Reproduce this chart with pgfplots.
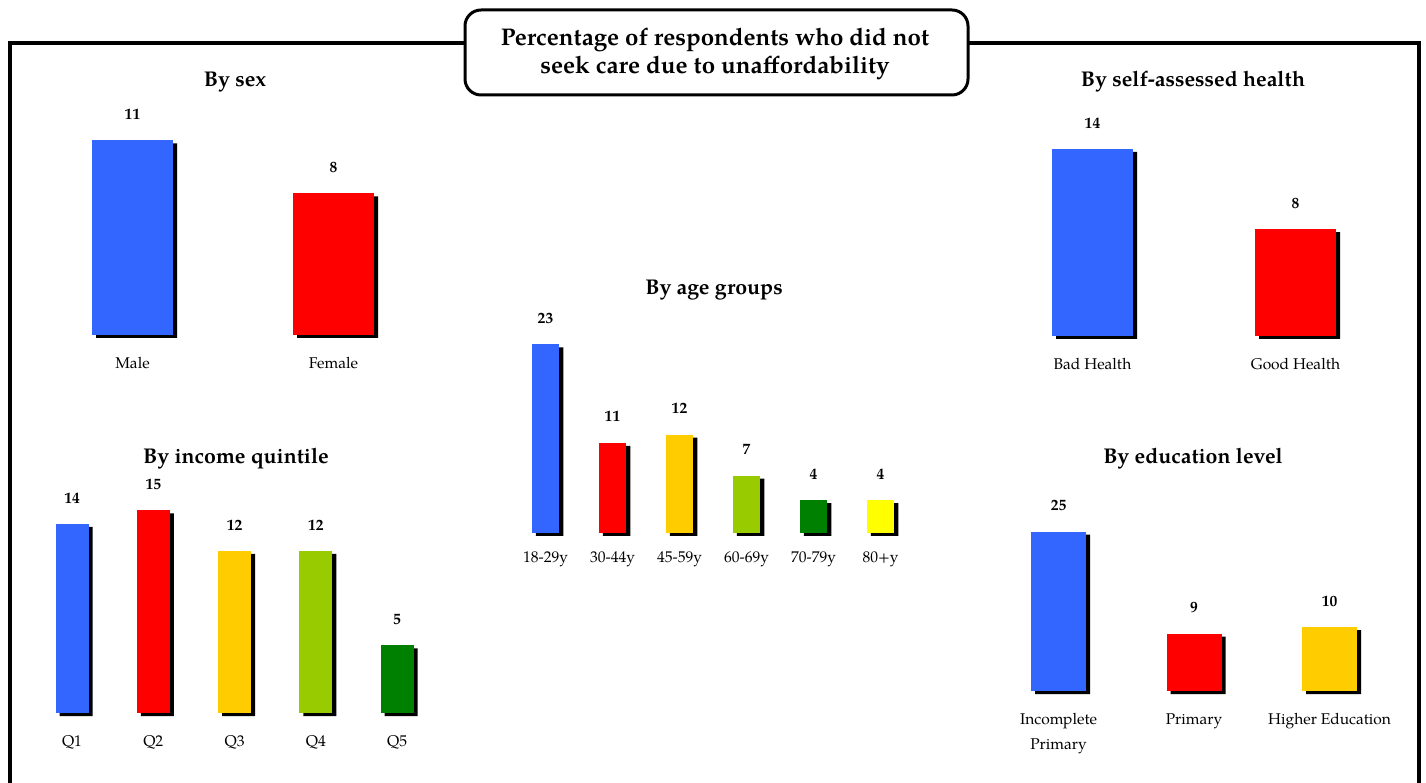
\documentclass[border=0pt]{standalone}
\usepackage{pgfplots}
\pgfplotsset{compat=1.18}
\usepackage{fontspec}
\setmainfont{TeX Gyre Pagella}

\definecolor{cblue}{HTML}{3366FF}
\definecolor{cred}{HTML}{FF0000}
\definecolor{cgold}{HTML}{FFCC00}
\definecolor{clime}{HTML}{99CC00}
\definecolor{cgreen}{HTML}{008000}
\definecolor{cyellow}{HTML}{FFFF00}

\newcommand{\labelfont}{\fontsize{7.8}{9.4}\selectfont}
\newcommand{\valuefont}{\bfseries\fontsize{7.8}{9.4}\selectfont}
\newcommand{\titlefont}{\bfseries\fontsize{12.1}{14}\selectfont}
\newcommand{\panelfont}{\bfseries\fontsize{10.7}{13}\selectfont}

\pgfplotsset{
  panel/.style={
    ybar, anchor=south west, clip=false,
    ymin=0, enlargelimits=false,
    axis line style={draw=none}, major tick length=0pt,
    xtick=data, ytick=\empty,
    xticklabel style={font=\labelfont, anchor=base, yshift=-16.75bp},
    /pgf/number format/assume math mode=true,
  },
  shadow/.style={fill=black, draw=none, bar shift=0pt, xshift=2bp, yshift=-1.5bp},
  bar/.style={fill=#1, draw=none, bar shift=0pt, nodes near coords,
    nodes near coords style={font=\valuefont, anchor=center, yshift=13bp}},
}

\begin{document}
\begin{tikzpicture}
\useasboundingbox (0,0) rectangle (713bp,391.5bp);

% outer frame, open at the bottom
\draw[line width=2bp] (5bp,0) -- (5bp,370bp) -- (709.5bp,370bp) -- (709.5bp,0);

% main title box
\draw[line width=1.5bp, rounded corners=8bp, fill=white]
  (232.5bp,386.5bp) rectangle (484bp,344bp);
\node[anchor=base, font=\titlefont] at (357.5bp,368.5bp) {Percentage of respondents who did not};
\node[anchor=base, font=\titlefont] at (357.5bp,354.5bp) {seek care due to unaffordability};

% panel titles
\node[anchor=base, font=\panelfont] at (117.5bp,348bp) {By sex};
\node[anchor=base, font=\panelfont] at (596.5bp,348bp) {By self-assessed health};
\node[anchor=base, font=\panelfont] at (357bp,244bp) {By age groups};
\node[anchor=base, font=\panelfont] at (118bp,159.8bp) {By income quintile};
\node[anchor=base, font=\panelfont] at (596.5bp,159.5bp) {By education level};

% by sex
\begin{axis}[panel, at={(16bp,224bp)}, x=100.5bp, y=8.85bp,
  xmin=-0.5, xmax=1.5, ymax=14, bar width=40.5bp,
  xticklabels={Male, Female}]
  \addplot[shadow] coordinates {(0,11) (1,8)};
  \addplot[bar=cblue] coordinates {(0,11)};
  \addplot[bar=cred] coordinates {(1,8)};
\end{axis}

% by self-assessed health
\begin{axis}[panel, at={(495.5bp,223.5bp)}, x=101.5bp, y=6.68bp,
  xmin=-0.5, xmax=1.5, ymax=18, bar width=40.5bp,
  xticklabels={Bad Health, Good Health}]
  \addplot[shadow] coordinates {(0,14) (1,8)};
  \addplot[bar=cblue] coordinates {(0,14)};
  \addplot[bar=cred] coordinates {(1,8)};
\end{axis}

% by age groups
\begin{axis}[panel, at={(256bp,125bp)}, x=33.5bp, y=4.1bp,
  xmin=-0.5, xmax=5.5, ymax=28, bar width=13.75bp,
  xticklabel style={yshift=1.75bp},
  xticklabels={18-29y, 30-44y, 45-59y, 60-69y, 70-79y, 80+y}]
  \addplot[shadow] coordinates {(0,23) (1,11) (2,12) (3,7) (4,4) (5,4)};
  \addplot[bar=cblue] coordinates {(0,23)};
  \addplot[bar=cred] coordinates {(1,11)};
  \addplot[bar=cgold] coordinates {(2,12)};
  \addplot[bar=clime] coordinates {(3,7)};
  \addplot[bar=cgreen] coordinates {(4,4)};
  \addplot[bar=cyellow] coordinates {(5,4)};
\end{axis}

% by income quintile
\begin{axis}[panel, at={(15.7bp,35bp)}, x=40.625bp, y=6.75bp,
  xmin=-0.5, xmax=4.5, ymax=18, bar width=16.5bp,
  xticklabels={Q1, Q2, Q3, Q4, Q5}]
  \addplot[shadow] coordinates {(0,14) (1,15) (2,12) (3,12) (4,5)};
  \addplot[bar=cblue] coordinates {(0,14)};
  \addplot[bar=cred] coordinates {(1,15)};
  \addplot[bar=cgold] coordinates {(2,12)};
  \addplot[bar=clime] coordinates {(3,12)};
  \addplot[bar=cgreen] coordinates {(4,5)};
\end{axis}

% by education level
\begin{axis}[panel, at={(495.4bp,46bp)}, x=67.75bp, y=3.19bp,
  xmin=-0.5, xmax=2.5, ymax=30, bar width=27.5bp,
  xticklabels={{\begin{tabular}[t]{@{}c@{}}Incomplete\\[3.1bp]Primary\end{tabular}},
               Primary, Higher Education}]
  \addplot[shadow] coordinates {(0,25) (1,9) (2,10)};
  \addplot[bar=cblue] coordinates {(0,25)};
  \addplot[bar=cred] coordinates {(1,9)};
  \addplot[bar=cgold] coordinates {(2,10)};
\end{axis}
\end{tikzpicture}
\end{document}
